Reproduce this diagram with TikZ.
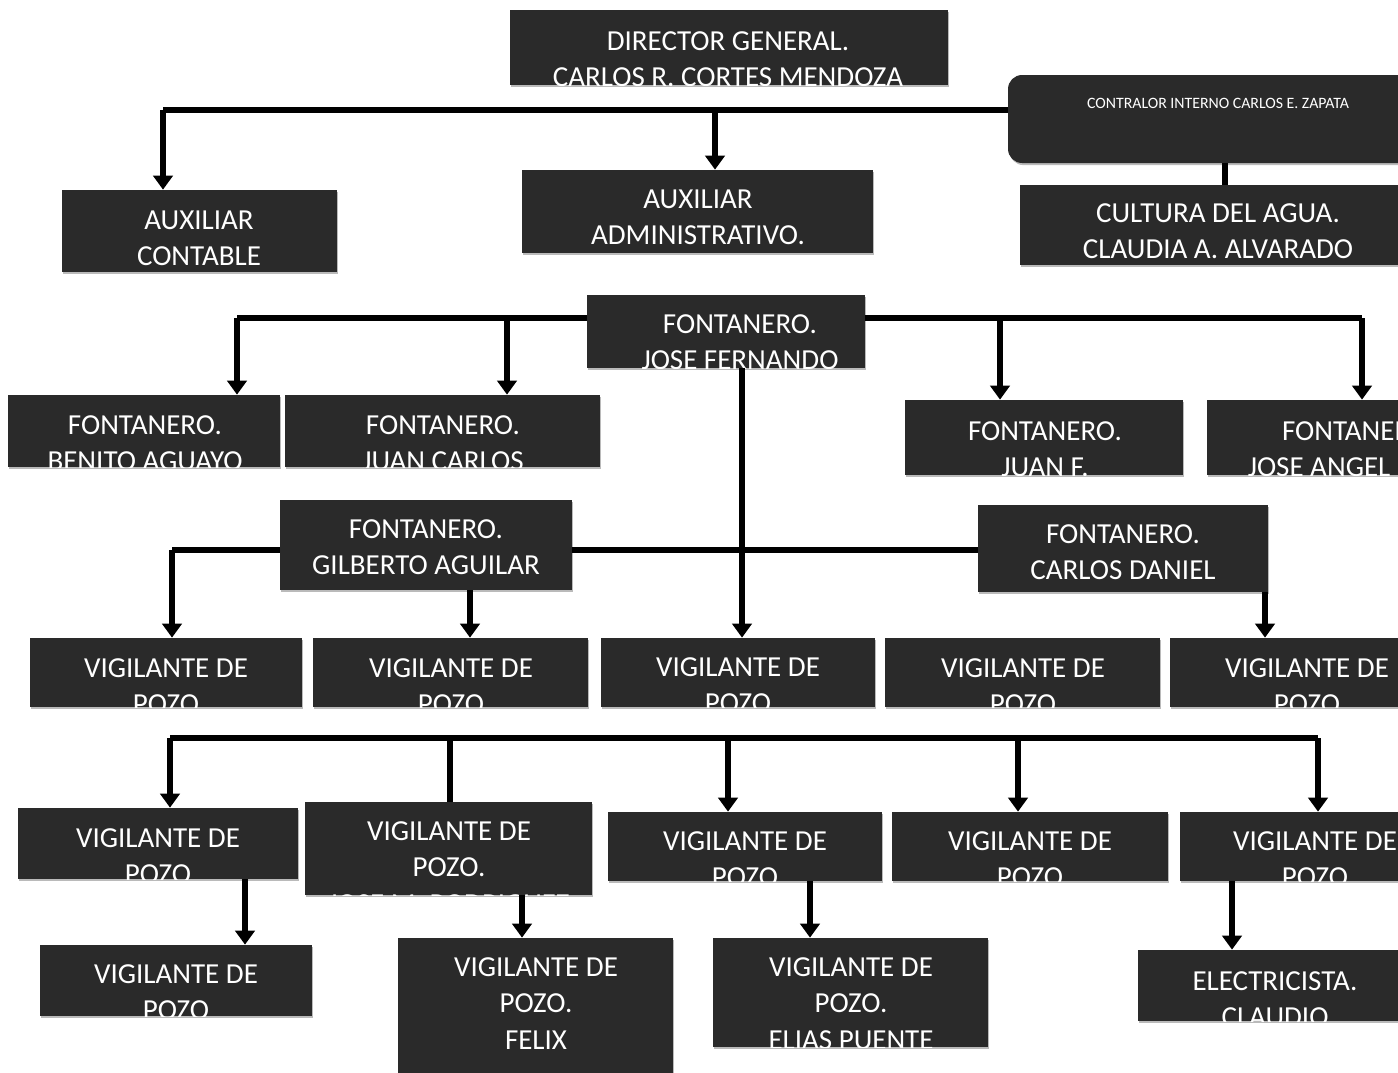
\documentclass[tikz,border=0pt]{standalone}
\usepackage{fontspec}
\setmainfont{Carlito}
\usetikzlibrary{arrows.meta,fit,shadows}
\definecolor{caja}{RGB}{42,42,42}
\newcommand{\letra}{\fontsize{16.5}{21}\selectfont}
\tikzset{
  cargo/.style={fill=caja, inner sep=0pt,
    drop shadow={shadow xshift=0.8pt, shadow yshift=-1.2pt, fill=black!45, opacity=0.6}},
  rotulo/.style={anchor=base, inner sep=0pt, text=white, font=\letra},
  linea/.style={line width=3.4pt},
  flecha/.style={line width=3.4pt, -{Triangle[width=11pt,length=8pt]}}
}
% caja: nombre, esquina, esquina, base del texto, texto
\newcommand{\cargo}[5]{%
  \coordinate (#1-t) at #4;
  \node[cargo, fit={#2 #3}, path picture={%
      \node[rotulo] at (#1-t) {\begin{tabular}[t]{@{}c@{}}#5\end{tabular}};}] (#1) {};}

\begin{document}
\begin{tikzpicture}[x=0.02cm,y=-0.02cm]
        \useasboundingbox (0,0) rectangle (1398,1072);
        \fill[white] (0,0) rectangle (1398,1072);
        \clip (0,0) rectangle (1398,1072);
        %direccion
        \cargo{dir}{(510,10)}{(948,85)}{(728,50)}{DIRECTOR GENERAL.\\CARLOS R. CORTES MENDOZA}
        \node[cargo, rounded corners=8pt, fit={(1008,75) (1440,163)}] (contralor) {};
        \node[rotulo, font=\fontsize{9}{11}\selectfont] at (1218,108) {CONTRALOR INTERNO CARLOS E. ZAPATA};
        \cargo{cultura}{(1020,185)}{(1440,265)}{(1218,222)}{CULTURA DEL AGUA.\\CLAUDIA A. ALVARADO}
        \cargo{auxcont}{(62,190)}{(337,272)}{(199,229)}{AUXILIAR\\CONTABLE}
        \cargo{auxadm}{(522,170)}{(873,253)}{(698,208)}{AUXILIAR\\ADMINISTRATIVO.}
        %fontaneros
        \cargo{fjose}{(587,295)}{(865,368)}{(740,333)}{FONTANERO.\\JOSE FERNANDO}
        \cargo{fbenito}{(8,395)}{(280,467)}{(145,434)}{FONTANERO.\\BENITO AGUAYO}
        \cargo{fjuanc}{(285,395)}{(600,467)}{(443,434)}{FONTANERO.\\JUAN CARLOS}
        \cargo{fjuanf}{(905,400)}{(1183,475)}{(1045,440)}{FONTANERO.\\JUAN F.}
        \cargo{fangel}{(1207,400)}{(1520,475)}{(1359,440)}{FONTANERO.\\JOSE ANGEL\phantom{ LOPEZ}}
        \cargo{fgilb}{(280,500)}{(572,590)}{(426,538)}{FONTANERO.\\GILBERTO AGUILAR}
        \cargo{fdani}{(978,505)}{(1268,592)}{(1123,543)}{FONTANERO.\\CARLOS DANIEL}
        %vigilantes
        \cargo{va}{(30,638)}{(302,707)}{(166,677)}{VIGILANTE DE\\POZO}
        \cargo{vb}{(313,638)}{(588,707)}{(451,677)}{VIGILANTE DE\\POZO}
        \cargo{vc}{(601,638)}{(875,707)}{(738,676)}{VIGILANTE DE\\POZO}
        \cargo{vd}{(885,638)}{(1160,707)}{(1023,677)}{VIGILANTE DE\\POZO}
        \cargo{ve}{(1170,638)}{(1445,707)}{(1307,677)}{VIGILANTE DE\\POZO}
        \cargo{wa}{(18,808)}{(298,879)}{(158,847)}{VIGILANTE DE\\POZO}
        \cargo{wb}{(305,802)}{(592,895)}{(449,840)}{VIGILANTE DE\\POZO.\\JOSE M. RODRIGUEZ}
        \cargo{wc}{(608,812)}{(882,881)}{(745,850)}{VIGILANTE DE\\POZO}
        \cargo{wd}{(892,812)}{(1168,881)}{(1030,850)}{VIGILANTE DE\\POZO}
        \cargo{we}{(1180,812)}{(1455,881)}{(1315,850)}{VIGILANTE DE\\POZO}
        \cargo{xa}{(40,945)}{(312,1016)}{(176,983)}{VIGILANTE DE\\POZO}
        \cargo{xb}{(398,938)}{(673,1090)}{(536,976)}{VIGILANTE DE\\POZO.\\FELIX}
        \cargo{xc}{(713,938)}{(988,1047)}{(851,976)}{VIGILANTE DE\\POZO.\\ELIAS PUENTE}
        \cargo{xd}{(1138,950)}{(1440,1021)}{(1275,990)}{ELECTRICISTA.\\CLAUDIO}
        %lineas de mando
        \coordinate (b1) at (163,110);
        \coordinate (b1m) at (715,110);
        \draw[linea] (b1) -- (b1 -| contralor.west);
        \draw[flecha] (b1) -- (b1 |- auxcont.north);
        \draw[flecha] (b1m) -- (b1m |- auxadm.north);
        \coordinate (b2) at (1225,0);
        \draw[linea] (b2 |- contralor.south) -- (b2 |- cultura.north);
        \coordinate (b3a) at (237,318);
        \coordinate (b3b) at (1362,318);
        \draw[linea] (b3a) -- (b3a -| fjose.west);
        \draw[linea] (b3b) -- (b3b -| fjose.east);
        \draw[flecha] (b3a) -- (b3a |- fbenito.north);
        \draw[flecha] (507,318) coordinate (b3c) -- (b3c |- fjuanc.north);
        \draw[flecha] (1000,318) coordinate (b3d) -- (b3d |- fjuanf.north);
        \draw[flecha] (b3b) -- (b3b |- fangel.north);
        \coordinate (b4) at (742,550);
        \draw[flecha] (b4 |- fjose.south) -- (b4 |- vc.north);
        \coordinate (b5) at (172,550);
        \draw[linea] (b5) -- (b5 -| fgilb.west);
        \draw[linea] (b5 -| fgilb.east) -- (b5 -| fdani.west);
        \draw[flecha] (b5) -- (b5 |- va.north);
        \coordinate (b5g) at (470,0);
        \draw[flecha] (b5g |- fgilb.south) -- (b5g |- vb.north);
        \coordinate (b5d) at (1265,0);
        \draw[flecha] (b5d |- fdani.south) -- (b5d |- ve.north);
        \coordinate (b6a) at (170,738);
        \coordinate (b6b) at (1318,738);
        \draw[linea] (b6a) -- (b6b);
        \draw[flecha] (b6a) -- (b6a |- wa.north);
        \draw[linea] (450,738) coordinate (b6c) -- (b6c |- wb.north);
        \draw[flecha] (728,738) coordinate (b6d) -- (b6d |- wc.north);
        \draw[flecha] (1018,738) coordinate (b6e) -- (b6e |- wd.north);
        \draw[flecha] (b6b) -- (b6b |- we.north);
        \coordinate (b7a) at (245,0);
        \draw[flecha] (b7a |- wa.south) -- (b7a |- xa.north);
        \coordinate (b7b) at (522,0);
        \draw[flecha] (b7b |- wb.south) -- (b7b |- xb.north);
        \coordinate (b7c) at (810,0);
        \draw[flecha] (b7c |- wc.south) -- (b7c |- xc.north);
        \coordinate (b7d) at (1232,0);
        \draw[flecha] (b7d |- we.south) -- (b7d |- xd.north);
\end{tikzpicture}
\end{document}
